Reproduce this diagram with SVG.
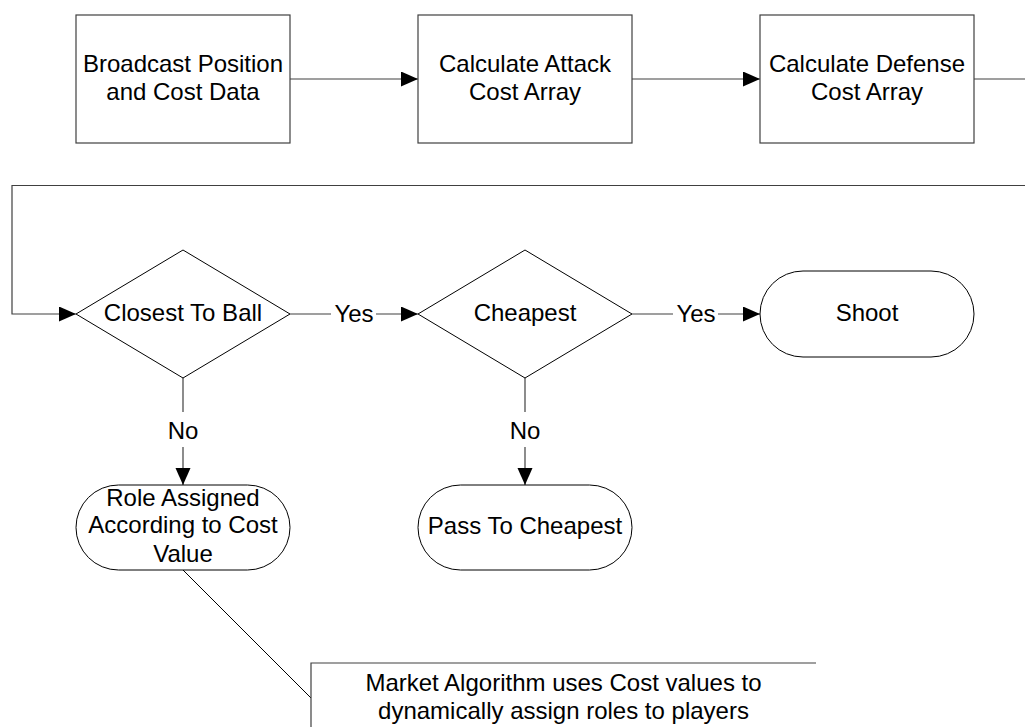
<svg xmlns="http://www.w3.org/2000/svg" width="1025" height="727" viewBox="0 0 1025 727">
  <style>
    .box { fill: #ffffff; stroke: #404040; stroke-width: 1.2; }
    .shape { fill: #ffffff; stroke: #000000; stroke-width: 1; }
    .conn { fill: none; stroke: #404040; stroke-width: 1.2; }
    .thin { fill: none; stroke: #000000; stroke-width: 1; }
    text { font-family: "Liberation Sans", Arial, sans-serif; font-size: 24px; fill: #000000; text-anchor: middle; }
    .lbl { fill: #ffffff; stroke: none; }
  </style>
  <defs>
    <marker id="arrow" markerUnits="userSpaceOnUse" markerWidth="18" markerHeight="16" refX="17" refY="7.5" orient="auto">
      <path d="M0,0 L17,7.5 L0,15 z" fill="#000000"/>
    </marker>
  </defs>
  <rect width="1025" height="727" fill="#ffffff"/>

  <!-- connectors -->
  <g id="connectors">
    <line class="conn" x1="290" y1="79" x2="418" y2="79" marker-end="url(#arrow)"/>
    <line class="conn" x1="632" y1="79" x2="760" y2="79" marker-end="url(#arrow)"/>
    <line class="conn" x1="974" y1="79" x2="1025" y2="79"/>
    <polyline class="conn" points="1025,185.5 12,185.5 12,314 76,314" marker-end="url(#arrow)"/>

    <line class="conn" x1="290" y1="314" x2="418" y2="314" marker-end="url(#arrow)"/>
    <rect class="lbl" x="331" y="300" width="45" height="28"/>
    <text x="354" y="322">Yes</text>

    <line class="conn" x1="632" y1="314" x2="760" y2="314" marker-end="url(#arrow)"/>
    <rect class="lbl" x="673" y="300" width="45" height="28"/>
    <text x="696" y="322">Yes</text>

    <line class="conn" x1="183" y1="378" x2="183" y2="485" marker-end="url(#arrow)"/>
    <rect class="lbl" x="166" y="412" width="34" height="35"/>
    <text x="183" y="439">No</text>

    <line class="conn" x1="525" y1="378" x2="525" y2="485" marker-end="url(#arrow)"/>
    <rect class="lbl" x="508" y="412" width="34" height="35"/>
    <text x="525" y="439">No</text>

    <line class="thin" x1="183" y1="570" x2="311" y2="698"/>
  </g>

  <!-- process boxes -->
  <g id="broadcast">
    <rect class="box" x="76" y="15" width="214" height="128"/>
    <text x="183" y="72">Broadcast Position</text>
    <text x="183" y="100">and Cost Data</text>
  </g>
  <g id="attack">
    <rect class="box" x="418" y="15" width="214" height="128"/>
    <text x="525" y="72">Calculate Attack</text>
    <text x="525" y="100">Cost Array</text>
  </g>
  <g id="defense">
    <rect class="box" x="760" y="15" width="214" height="128"/>
    <text x="867" y="72">Calculate Defense</text>
    <text x="867" y="100">Cost Array</text>
  </g>

  <!-- decisions -->
  <g id="closest">
    <polygon class="shape" points="76,314 183,250 290,314 183,378"/>
    <text x="183" y="321">Closest To Ball</text>
  </g>
  <g id="cheapest">
    <polygon class="shape" points="418,314 525,250 632,314 525,378"/>
    <text x="525" y="321">Cheapest</text>
  </g>

  <!-- terminators -->
  <g id="shoot">
    <rect class="shape" x="760" y="271" width="214" height="86" rx="43" ry="43"/>
    <text x="867" y="321">Shoot</text>
  </g>
  <g id="role">
    <rect class="shape" x="76" y="485" width="214" height="85" rx="42.5" ry="42.5"/>
    <text x="183" y="506">Role Assigned</text>
    <text x="183" y="533">According to Cost</text>
    <text x="183" y="562">Value</text>
  </g>
  <g id="pass">
    <rect class="shape" x="418" y="485" width="214" height="85" rx="42.5" ry="42.5"/>
    <text x="525" y="534">Pass To Cheapest</text>
  </g>

  <!-- annotation -->
  <g id="note">
    <polyline class="conn" points="816,663 311,663 311,727"/>
    <text x="563.5" y="691">Market Algorithm uses Cost values to</text>
    <text x="563.5" y="719">dynamically assign roles to players</text>
  </g>
</svg>
